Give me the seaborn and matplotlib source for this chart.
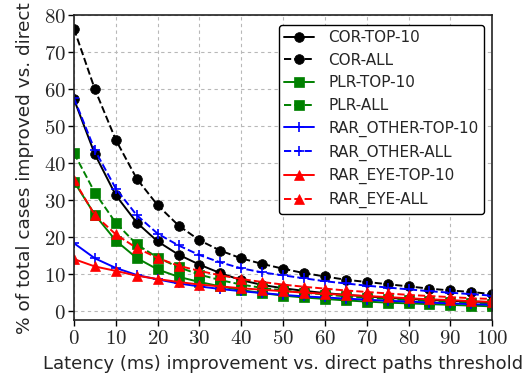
import matplotlib
matplotlib.use("Agg")
import matplotlib.pyplot as plt
import seaborn as sns
import numpy as np
import pandas as pd

thresholds = list(range(0, 101, 5))

cor_top10 = [57.3, 42.4, 31.3, 23.9, 18.8, 15.2, 12.5, 10.2, 8.3, 7.0, 6.1, 5.4, 4.8, 4.3, 3.9, 3.5, 3.2, 2.9, 2.7, 2.5, 2.3]
cor_all = [76.4, 60.0, 46.3, 35.8, 28.6, 23.1, 19.1, 16.3, 14.2, 12.7, 11.4, 10.2, 9.3, 8.4, 7.8, 7.2, 6.6, 6.0, 5.5, 5.1, 4.5]
plr_top10 = [35.0, 26.0, 19.0, 14.3, 11.2, 9.2, 7.8, 6.6, 5.6, 4.8, 4.1, 3.6, 3.2, 2.8, 2.5, 2.2, 2.0, 1.8, 1.6, 1.4, 1.2]
plr_all = [42.7, 32.0, 23.8, 18.0, 14.4, 11.8, 9.8, 8.3, 7.1, 6.2, 5.5, 4.9, 4.4, 3.9, 3.5, 3.2, 2.9, 2.6, 2.3, 2.1, 1.9]
rar_other_top10 = [18.3, 14.2, 11.6, 9.7, 8.5, 7.4, 6.6, 5.9, 5.3, 4.8, 4.3, 3.9, 3.6, 3.3, 3.0, 2.7, 2.5, 2.2, 2.0, 1.8, 1.6]
rar_other_all = [57.6, 43.5, 33.1, 25.9, 20.9, 17.7, 15.1, 13.1, 11.5, 10.4, 9.6, 8.8, 8.0, 7.4, 6.8, 6.3, 5.8, 5.3, 4.9, 4.5, 4.1]
rar_eye_top10 = [14.0, 12.0, 10.8, 9.5, 8.6, 7.8, 7.1, 6.6, 6.1, 5.7, 5.3, 4.9, 4.6, 4.3, 4.0, 3.7, 3.4, 3.1, 2.9, 2.6, 2.4]
rar_eye_all = [35.4, 25.9, 20.7, 17.0, 14.3, 12.2, 10.8, 9.6, 8.6, 7.8, 7.1, 6.5, 6.0, 5.5, 5.1, 4.7, 4.3, 4.0, 3.7, 3.4, 3.2]

series_names = ["COR-TOP-10", "COR-ALL", "PLR-TOP-10", "PLR-ALL",
                "RAR_OTHER-TOP-10", "RAR_OTHER-ALL", "RAR_EYE-TOP-10", "RAR_EYE-ALL"]
series_values = [cor_top10, cor_all, plr_top10, plr_all,
                 rar_other_top10, rar_other_all, rar_eye_top10, rar_eye_all]

x_ticks = list(range(0, 101, 10))
y_ticks = list(range(0, 81, 10))

colors = ["black", "black", "green", "green", "blue", "blue", "red", "red"]
styles = ["-", "--", "-", "--", "-", "--", "-", "--"]
markers = ["o", "o", "s", "s", "+", "+", "^", "^"]

sns.set_theme(style="white")
plt.rcParams['font.family'] = ['DejaVu Sans']
plt.rcParams['mathtext.fontset'] = 'cm'

fig = plt.figure(figsize=(5.30, 3.77), dpi=100)
ax = fig.add_axes([0.1396, 0.1512, 0.789, 0.8077])

for name, vals, c, ls, m in zip(series_names, series_values, colors, styles, markers):
    df = pd.DataFrame({"x": thresholds, "y": vals})
    sns.lineplot(data=df, x="x", y="y", ax=ax, color=c, linestyle=ls, marker=m,
                 markersize=7, markeredgewidth=1.2 if m == "+" else 0.5,
                 markeredgecolor=c, linewidth=1.4, label=name)

ax.set_xlim(0, 100)
ax.set_ylim(-2.5, 80)
ax.set_xticks(x_ticks)
ax.set_yticks(y_ticks)
ax.set_xticklabels([f"${t}$" for t in x_ticks], fontsize=15)
ax.set_yticklabels([f"${t}$" for t in y_ticks], fontsize=15)
ax.tick_params(axis="both", which="major", direction="out", length=4, width=1,
               color="black", pad=2, bottom=True, left=True)
ax.grid(True, linestyle=(0, (3, 3)), color="#b8b8b8", linewidth=0.8)
for s in ax.spines.values():
    s.set_color("#222222")
    s.set_linewidth(1.2)

ax.set_xlabel("Latency (ms) improvement vs. direct paths threshold", fontsize=13, labelpad=5)
ax.set_ylabel("% of total cases improved vs. direct", fontsize=13.3, labelpad=7)

leg = ax.legend(loc="upper right", fontsize=11, frameon=True, fancybox=True,
                framealpha=1, edgecolor="black", handlelength=2.0, handletextpad=0.9,
                borderpad=0.35, labelspacing=0.5, borderaxespad=0,
                bbox_to_anchor=(0.98, 0.97))
leg.get_frame().set_linewidth(1.0)

fig.savefig("out.png", dpi=100)
